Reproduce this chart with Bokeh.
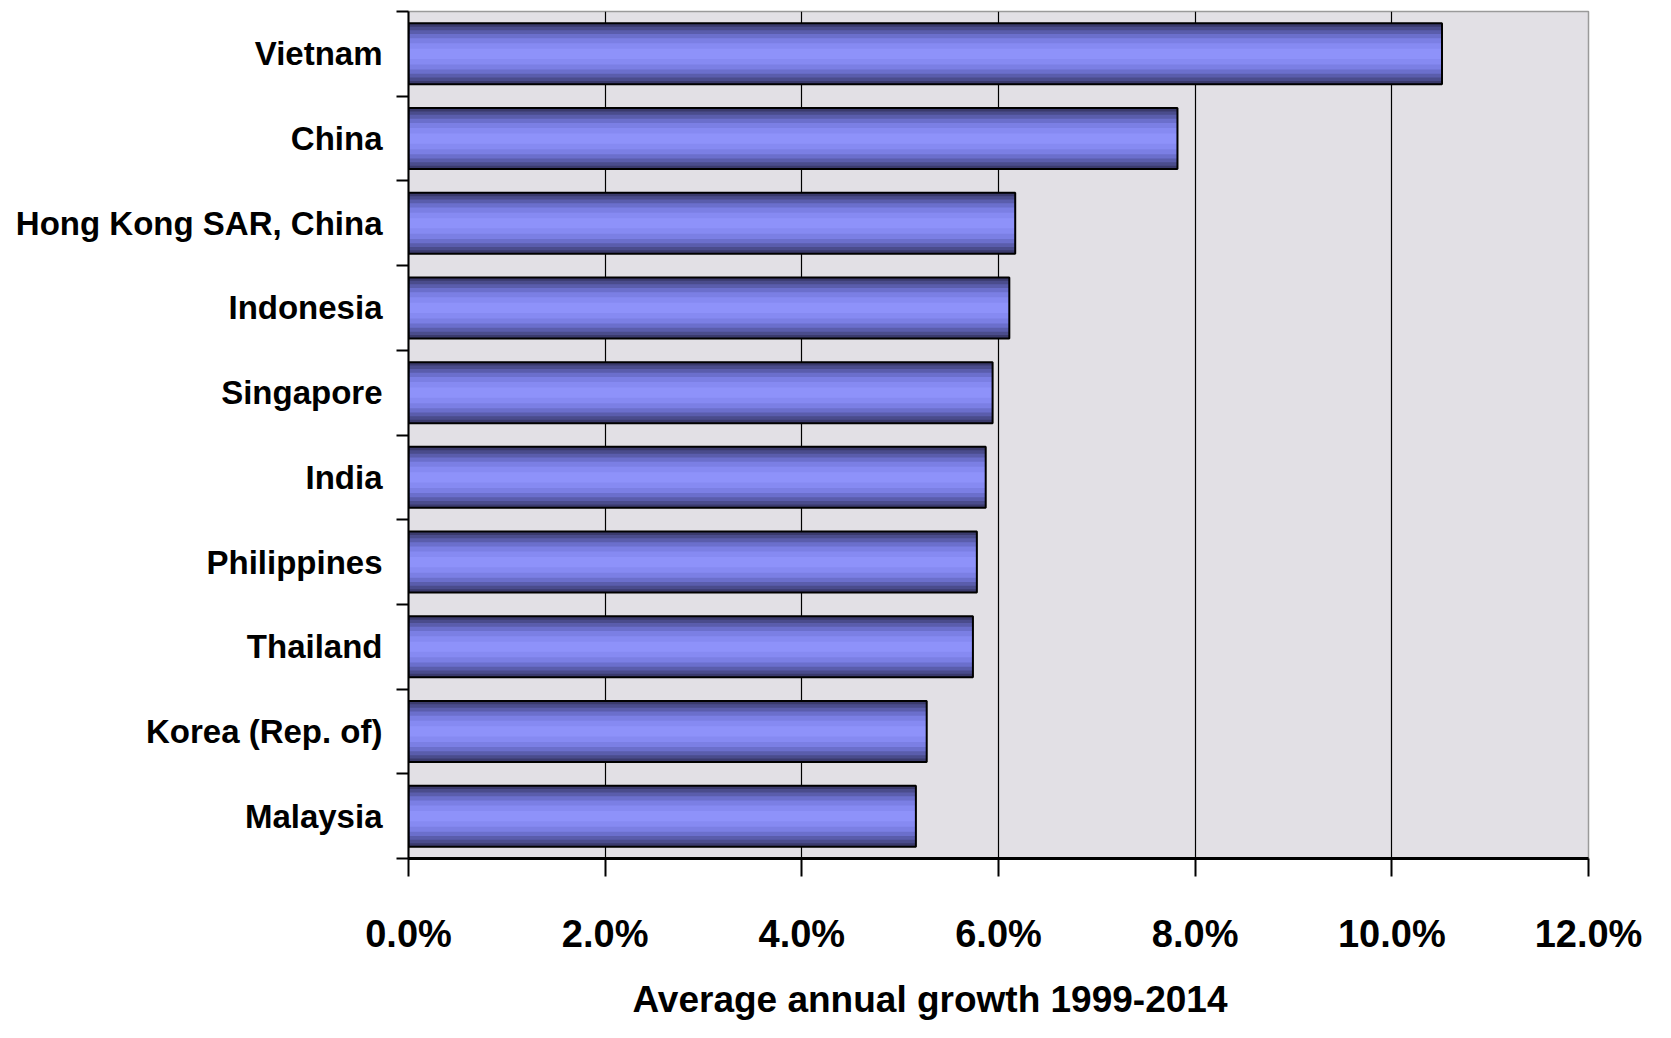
from bokeh.plotting import figure
from bokeh.models import Range1d, FixedTicker, NumeralTickFormatter, ColumnDataSource, Title
from bokeh.embed import file_html
from bokeh.resources import INLINE

countries = ["Vietnam", "China", "Hong Kong SAR, China", "Indonesia", "Singapore",
             "India", "Philippines", "Thailand", "Korea (Rep. of)", "Malaysia"]
growth = [0.1051, 0.0782, 0.0617, 0.0611, 0.0594, 0.0587, 0.0578, 0.0574, 0.0527, 0.0516]
x_ticks = [0.0, 0.02, 0.04, 0.06, 0.08, 0.10, 0.12]
x_title = "Average annual growth 1999-2014"

n = len(countries)
ypos = [n - i - 0.5 for i in range(n)]
src = ColumnDataSource(dict(y=ypos, v=growth, name=countries))

p = figure(width=1655, height=1038, output_backend="svg", toolbar_location=None,
           x_range=Range1d(0, 0.12), y_range=Range1d(0, n),
           min_border_left=408, min_border_right=67, min_border_top=11, min_border_bottom=177)

p.background_fill_color = "#e2e0e5"
p.border_fill_color = "white"
p.outline_line_color = "#9a9a9a"
p.outline_line_width = 1.5

# gradient-like bars: stacked layers, dark edges to light centre
layers = [(0.72, "#3a3a6c"), (0.64, "#4a4c8c"), (0.56, "#5a5dac"), (0.47, "#6b6fcc"),
          (0.37, "#7b7fe4"), (0.25, "#868af2"), (0.12, "#8e92fa")]
for h, c in layers:
    p.hbar(y="y", right="v", left=0, height=h, source=src, fill_color=c, line_color=None)
p.hbar(y="y", right="v", left=0, height=0.72, source=src, fill_color=None,
       line_color="black", line_width=2)

# x axis
xa = p.xaxis[0]
xa.ticker = FixedTicker(ticks=x_ticks)
xa.formatter = NumeralTickFormatter(format="0.0%")
xa.major_tick_out = 18
xa.major_tick_in = 0
xa.minor_tick_line_color = None
xa.major_tick_line_width = 2
xa.axis_line_width = 3
xa.axis_line_color = "black"
xa.major_label_text_font = "Liberation Sans"
xa.major_label_text_font_style = "bold"
xa.major_label_text_font_size = "38px"
xa.major_label_text_color = "black"
xa.major_label_standoff = 36

# axis title, slightly left of the frame centre as in the original
title = Title(text=x_title, align="left", offset=224, text_font="Liberation Sans",
              text_font_style="bold", text_font_size="37px", text_color="black",
              standoff=38, text_line_height=0.9)
p.add_layout(title, "below")

# y axis: labels at bar centres, tick marks at category boundaries
ya = p.yaxis[0]
ya.ticker = FixedTicker(ticks=ypos, minor_ticks=list(range(n + 1)))
ya.major_label_overrides = {y: c for y, c in zip(ypos, countries)}
ya.major_tick_out = 0
ya.major_tick_in = 0
ya.minor_tick_out = 12
ya.minor_tick_in = 0
ya.minor_tick_line_width = 2
ya.minor_tick_line_color = "black"
ya.axis_line_width = 2
ya.axis_line_color = "black"
ya.major_label_text_font = "Liberation Sans"
ya.major_label_text_font_style = "bold"
ya.major_label_text_font_size = "33px"
ya.major_label_text_color = "black"
ya.major_label_standoff = 14

p.xgrid.ticker = FixedTicker(ticks=x_ticks)
p.xgrid.grid_line_color = "black"
p.xgrid.grid_line_width = 1.2
p.ygrid.grid_line_color = None

open("out.html", "w").write(file_html(p, INLINE))
